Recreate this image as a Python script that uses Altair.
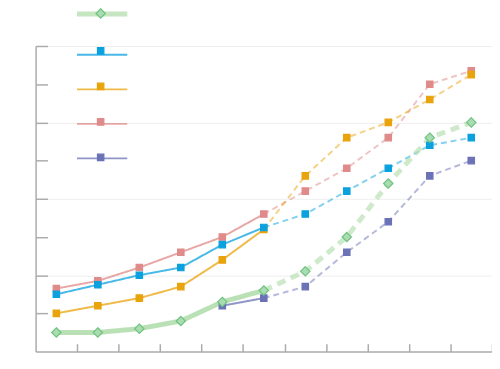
import altair as alt
import pandas as pd

periods = list(range(11))
series_names = ["Series 1", "Series 2", "Series 3", "Series 4", "Series 5"]
line_colors = ["#b3deae", "#0aa1de", "#e9a30b", "#e08a8a", "#6b72b6"]
marker_fills = ["#a9dcb1", "#0aa1de", "#e9a30b", "#e08a8a", "#6b72b6"]
marker_strokes = ["#6fc27f", "#0aa1de", "#e9a30b", "#e08a8a", "#6b72b6"]
line_widths = [5, 2, 2, 2, 2]

s1 = [0.5, 0.5, 0.6, 0.8, 1.3, 1.6, 2.1, 3.0, 4.4, 5.6, 6.0]
s2 = [1.5, 1.75, 2.0, 2.2, 2.8, 3.25, 3.6, 4.2, 4.8, 5.4, 5.6]
s3 = [1.0, 1.2, 1.4, 1.7, 2.4, 3.2, 4.6, 5.6, 6.0, 6.6, 7.25]
s4 = [1.65, 1.85, 2.2, 2.6, 3.0, 3.6, 4.2, 4.8, 5.6, 7.0, 7.35]
s5 = [None, None, None, None, 1.2, 1.4, 1.7, 2.6, 3.4, 4.6, 5.0]
last_solid = 5

values = dict(zip(series_names, [s1, s2, s3, s4, s5]))
draw_order = ["Series 5", "Series 4", "Series 3", "Series 2", "Series 1"]
marker_names = [n + " (marker)" for n in series_names]

line_rows, point_rows = [], []
for name in draw_order:
    for i, v in zip(periods, values[name]):
        if v is None:
            continue
        point_rows.append({"series": name, "marker": name + " (marker)", "x": i, "y": v})
        if i <= last_solid:
            line_rows.append({"series": name, "x": i, "y": v, "seg": "solid", "key": name + "-solid"})
        if i >= last_solid:
            line_rows.append({"series": name, "x": i, "y": v, "seg": "dashed", "key": name + "-dashed"})
line_df = pd.DataFrame(line_rows)
point_df = pd.DataFrame(point_rows)

G = series_names[0]
SQ = "M-0.65,-0.65L0.65,-0.65L0.65,0.65L-0.65,0.65Z"
DM = "M0,-0.95L0.95,0L0,0.95L-0.95,0Z"
LINE = "M-5.1,0L5.1,0"

LX, LY, ROWPAD = 60, -40, 25
line_legend = alt.Legend(
    orient="none", legendX=LX, legendY=LY, padding=0, rowPadding=ROWPAD,
    title=None, labelExpr="''", labelFontSize=1, labelOffset=0,
    symbolSize=100, symbolType=LINE, symbolOpacity=0.75, zindex=0,
)
marker_legend = alt.Legend(
    orient="none", legendX=LX, legendY=LY + 1, padding=0, rowPadding=ROWPAD - 1,
    title=None, labelExpr="''", labelFontSize=1, labelOffset=0,
    symbolSize=100, symbolOpacity=1, symbolStrokeWidth=1.2, zindex=1,
)

xs = alt.Scale(domain=[-0.5, 10.5], nice=False, zero=False)
ys = alt.Scale(domain=[0, 8], nice=False, zero=False)
AX = "#ababab"

x_axis_a = alt.Axis(orient="bottom", title=None, labels=False, ticks=False, grid=False,
                    domainColor=AX, domainWidth=1.5)
y_axis_a = alt.Axis(orient="left", title=None, labels=False, ticks=False, grid=True,
                    values=[2, 4, 6, 8], gridColor="#eeeeee", gridWidth=1,
                    domainColor=AX, domainWidth=1.5)
x_axis_b = alt.Axis(orient="bottom", title=None, labels=False, ticks=True, tickSize=8,
                    offset=-8, domain=False, grid=False, tickColor=AX, tickWidth=1.5,
                    values=[p + 0.5 for p in periods])
y_axis_b = alt.Axis(orient="left", title=None, labels=False, ticks=True, tickSize=12,
                    offset=-12, domain=False, grid=False, tickColor=AX, tickWidth=1.5,
                    values=[1, 2, 3, 4, 5, 6, 7, 8])

color = alt.Color("series:N", scale=alt.Scale(domain=series_names, range=line_colors), legend=line_legend)
width_enc = alt.StrokeWidth("series:N", scale=alt.Scale(type="ordinal", domain=series_names, range=line_widths),
                            legend=line_legend)

base_lines = alt.Chart(line_df)

other_lines = base_lines.transform_filter(f"datum.series !== '{G}'").mark_line().encode(
    x=alt.X("x:Q", scale=xs, axis=x_axis_a),
    y=alt.Y("y:Q", scale=ys, axis=y_axis_a),
    color=color,
    strokeWidth=width_enc,
    detail="key:N",
    strokeDash=alt.condition("datum.seg === 'dashed'", alt.value([6, 4]), alt.value([1, 0])),
    opacity=alt.condition("datum.seg === 'dashed'", alt.value(0.5), alt.value(0.75)),
)

green_lines = base_lines.transform_filter(f"datum.series === '{G}'").mark_line().encode(
    x=alt.X("x:Q", scale=xs, axis=x_axis_b),
    y=alt.Y("y:Q", scale=ys, axis=y_axis_b),
    color=color,
    strokeWidth=width_enc,
    detail="key:N",
    strokeDash=alt.condition("datum.seg === 'dashed'", alt.value([9, 6]), alt.value([1, 0])),
    opacity=alt.condition("datum.seg === 'dashed'", alt.value(0.65), alt.value(0.9)),
)

points = alt.Chart(point_df).mark_point(filled=True, size=100, opacity=1, strokeWidth=1.2).encode(
    x=alt.X("x:Q", scale=xs, axis=None),
    y=alt.Y("y:Q", scale=ys, axis=None),
    fill=alt.Fill("marker:N", scale=alt.Scale(domain=marker_names, range=marker_fills), legend=marker_legend),
    stroke=alt.Stroke("marker:N", scale=alt.Scale(domain=marker_names, range=marker_strokes), legend=marker_legend),
    shape=alt.Shape("marker:N", scale=alt.Scale(domain=marker_names, range=[DM, SQ, SQ, SQ, SQ]), legend=marker_legend),
)

chart = alt.layer(other_lines, green_lines, points).resolve_axis(
    x="independent", y="independent"
).properties(
    width=463, height=310,
    autosize=alt.AutoSizeParams(type="none"),
    padding={"left": 28, "top": 36, "right": 0, "bottom": 5},
).configure_view(stroke=None)

chart.save("out.html", embed_options={"renderer": "svg", "actions": False})
